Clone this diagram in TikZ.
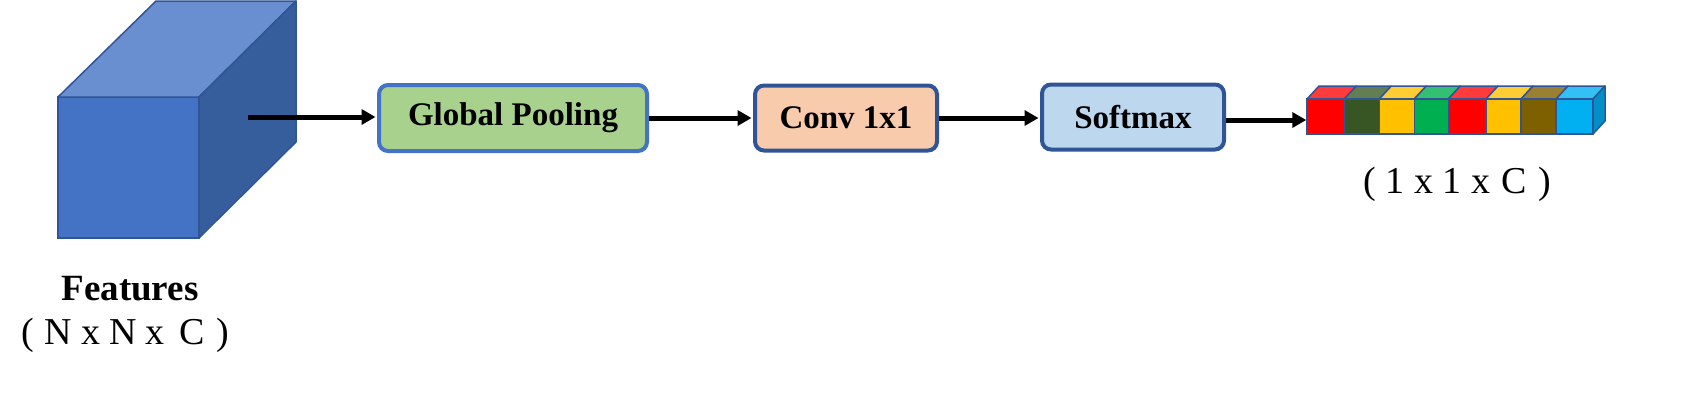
\documentclass[tikz,border=0pt]{standalone}
\usepackage{fontspec}
\setmainfont{Liberation Serif}
\usetikzlibrary{arrows.meta}
\definecolor{cubefront}{HTML}{4472C4}
\definecolor{cubetop}{HTML}{6A8FD0}
\definecolor{cubeside}{HTML}{365D9C}
\definecolor{edgeblue}{HTML}{2F5597}
\definecolor{lightblue}{HTML}{4472C4}
\definecolor{gpfill}{HTML}{A9D18E}
\definecolor{convfill}{HTML}{F8CBAD}
\definecolor{softfill}{HTML}{BDD7EE}
\definecolor{cA}{HTML}{FF0000}\definecolor{tA}{HTML}{FF3B3B}
\definecolor{cB}{HTML}{375623}\definecolor{tB}{HTML}{627E52}
\definecolor{cC}{HTML}{FFC000}\definecolor{tC}{HTML}{FFCD33}
\definecolor{cD}{HTML}{00B050}\definecolor{tD}{HTML}{33C073}
\definecolor{cE}{HTML}{7F6000}\definecolor{tE}{HTML}{998033}
\definecolor{cF}{HTML}{00B0F0}\definecolor{tF}{HTML}{33C0F3}
\definecolor{sideF}{HTML}{008FC6}
\begin{document}
\begin{tikzpicture}[x=1pt,y=-1pt,
  box/.style={rounded corners=9pt, line width=4pt, inner sep=0pt,
    minimum height=65pt, font=\bfseries\fontsize{33}{38}\selectfont},
  arr/.style={line width=5pt, -{Triangle[length=14pt,width=15pt]}, shorten >=1.5pt},
  cell/.style={draw=edgeblue, line width=1.5pt, inner sep=0pt},
  face/.style={draw=edgeblue, line width=1.5pt, line join=round},
  dimlabel/.style={font=\fontsize{38}{42}\selectfont, anchor=base west, inner sep=0pt}]
\useasboundingbox (0,0) rectangle (1694,408);
% cube
\fill[cubefront, draw=edgeblue, line width=1.5pt] (58,97) rectangle (199,238);
\filldraw[face, fill=cubetop] (58,97) -- (156,1) -- (296,1) -- (199,97) -- cycle;
\filldraw[face, fill=cubeside] (199,97) -- (296,1) -- (296,142) -- (199,238) -- cycle;
\coordinate (cubeout) at (248,117);
\node[font=\bfseries\fontsize{37}{40}\selectfont, anchor=base, inner sep=0pt] (feat) at (130,300) {Features};
\node[dimlabel] (featdim) at (21,344)
  {(\hspace{11pt}N\hspace{9pt}x\hspace{9pt}N\hspace{9pt}x\hspace{15pt}C\hspace{11.5pt})};
% boxes
\node[box, draw=lightblue, fill=gpfill, minimum width=268pt, minimum height=66pt] (gp) at (513,118) {Global Pooling};
\node[box, draw=edgeblue, fill=convfill, minimum width=182pt] (conv) at (846,118) {Conv 1x1};
\node[box, draw=edgeblue, fill=softfill, minimum width=182pt] (soft) at (1133,117) {Softmax};
% strip
\foreach \c/\t/\xa/\xb [count=\i from 0] in {cA/tA/1307/1344.3, cB/tB/1344.3/1379.3,
    cC/tC/1379.3/1414.3, cD/tD/1414.3/1448.3, cA/tA/1448.3/1486, cC/tC/1486/1521,
    cE/tE/1521/1556, cF/tF/1556/1593}{
  \filldraw[face, fill=\t] (\xa,99) -- (\xa+12,86) -- (\xb+12,86) -- (\xb,99) -- cycle;
  \pgfmathsetmacro{\w}{\xb-\xa}
  \node[cell, fill=\c, minimum width=\w pt, minimum height=35pt] (s\i) at ({(\xa+\xb)/2},116.5) {};
}
\filldraw[face, fill=sideF] (1593,99) -- (1605,86) -- (1605,121) -- (1593,134) -- cycle;
\node[dimlabel] (stripdim) at (1363,193)
  {(\hspace{10pt}1\hspace{9.5pt}x\hspace{9.5pt}1\hspace{9.5pt}x\hspace{11.5pt}C\hspace{11.5pt})};
% arrows
\draw[arr] (cubeout) -- (gp.west |- cubeout);
\draw[arr] (gp.east) -- (conv.west);
\draw[arr] (conv.east) -- (soft.west |- conv.east);
\draw[arr, shorten >=0pt] (soft.east) ++(0,3) coordinate (se) -- (se -| s0.west);
\end{tikzpicture}
\end{document}
